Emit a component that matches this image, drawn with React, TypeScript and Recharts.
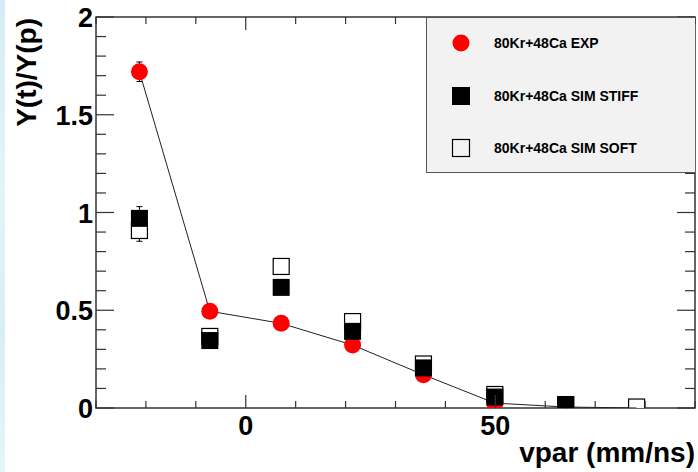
import { ComposedChart, Scatter, XAxis, YAxis, ErrorBar, ReferenceArea, Legend } from 'recharts'

const FONT = '"Liberation Sans", Arial, Helvetica, sans-serif'

// bin centres (mm/ns)
const BIN_X = [-21.3, -7.2, 7.1, 21.4, 35.6, 49.9, 64.1, 78.3]

const EXP_Y = [1.72, 0.495, 0.433, 0.322, 0.17, 0.025, 0.005, 0]
const EXP_ERR = [0.05, 0.02, 0.02, 0.015, 0.012, 0.006, 0.003, 0]

const STIFF_Y = [0.97, 0.345, 0.617, 0.392, 0.205, 0.056, 0.018]
const STIFF_ERR = [0.06, 0.02, 0.03, 0.02, 0.015, 0.008, 0.004]

const SOFT_Y = [0.908, 0.366, 0.724, 0.442, 0.225, 0.069, 0.015, 0.005]
const SOFT_ERR = [0.055, 0.02, 0.03, 0.02, 0.015, 0.008, 0.004, 0.002]

const X_TICKS = [-30, -20, -10, 0, 10, 20, 30, 40, 50, 60, 70, 80, 90]
const X_LABELS = [0, 50]
const Y_TICKS = [0, 0.1, 0.2, 0.3, 0.4, 0.5, 0.6, 0.7, 0.8, 0.9, 1, 1.1, 1.2, 1.3, 1.4, 1.5, 1.6, 1.7, 1.8, 1.9, 2]
const Y_LABELS = [0, 0.5, 1, 1.5, 2]

const SERIES_NAMES = ['80Kr+48Ca EXP', '80Kr+48Ca SIM STIFF', '80Kr+48Ca SIM SOFT']

const W = 698
const H = 472
const PLOT_LEFT = 96
const PLOT_RIGHT = 695
const PLOT_TOP = 17
const PLOT_BOTTOM = 408
const AXIS = '#333'

const toPoints = (ys: number[], errs: number[]) =>
  ys.map((y, i) => ({ x: BIN_X[i], y, err: errs[i] }))

const expData = toPoints(EXP_Y, EXP_ERR)
const stiffData = toPoints(STIFF_Y, STIFF_ERR)
const softData = toPoints(SOFT_Y, SOFT_ERR)

const MS = 17 // marker size

function RedDot({ cx, cy, payload }: any) {
  // empty bins get no marker, only the line passes through
  if (!payload || payload.y === 0) return null
  return <circle cx={cx} cy={cy} r={MS / 2} fill="#ff0000" />
}

function FullSquare({ cx, cy }: any) {
  return <rect x={cx - MS / 2} y={cy - MS / 2} width={MS} height={MS} fill="#000" />
}

function OpenSquare({ cx, cy }: any) {
  return <rect x={cx - MS / 2 + 0.5} y={cy - MS / 2 + 0.5} width={MS - 1} height={MS - 1} fill="#fff" stroke="#000" strokeWidth={1.2} />
}

function XTick({ x, payload }: any) {
  const v = payload.value
  const major = X_LABELS.includes(v)
  const len = major ? 13 : 7
  return (
    <g>
      <line x1={x} x2={x} y1={PLOT_BOTTOM} y2={PLOT_BOTTOM - len} stroke={AXIS} strokeWidth={1.2} />
      <line x1={x} x2={x} y1={PLOT_TOP} y2={PLOT_TOP + len} stroke={AXIS} strokeWidth={1.2} />
      {major && (
        <text x={x} y={435} textAnchor="middle" fontSize={27} fontWeight="bold" fontFamily={FONT} fill="#000">
          {v}
        </text>
      )}
    </g>
  )
}

function YTick({ y, payload }: any) {
  const v = payload.value
  const major = Y_LABELS.some(m => Math.abs(m - v) < 1e-6)
  const len = major ? 18 : 10
  return (
    <g>
      <line x1={PLOT_LEFT} x2={PLOT_LEFT + len} y1={y} y2={y} stroke={AXIS} strokeWidth={1.2} />
      <line x1={PLOT_RIGHT} x2={PLOT_RIGHT - len} y1={y} y2={y} stroke={AXIS} strokeWidth={1.2} />
      {major && (
        <text x={93} y={y + 10} textAnchor="end" fontSize={27} fontWeight="bold" fontFamily={FONT} fill="#000">
          {v}
        </text>
      )}
    </g>
  )
}

function LegendBox() {
  const markers = [
    <circle cx={12} cy={12} r={8.5} fill="#ff0000" />,
    <rect x={3} y={3} width={18} height={18} fill="#000" />,
    <rect x={3.5} y={3.5} width={17} height={17} fill="none" stroke="#000" strokeWidth={1.2} />,
  ]
  return (
    <div
      style={{
        width: 269,
        height: 156,
        boxSizing: 'border-box',
        background: '#f2f2f2',
        border: '1.5px solid #555',
        borderRight: 'none',
        position: 'relative',
        fontFamily: FONT,
      }}
    >
      {SERIES_NAMES.map((name, i) => (
        <div
          key={name}
          style={{ position: 'absolute', left: 22, top: 13 + i * 52.5, height: 24, display: 'flex', alignItems: 'center' }}
        >
          <svg width={24} height={24}>{markers[i]}</svg>
          <span style={{ marginLeft: 21, fontSize: 14, fontWeight: 'bold', color: '#000' }}>{name}</span>
        </div>
      ))}
    </div>
  )
}

export default function App() {
  return (
    <div style={{ position: 'relative', width: W, height: H, background: '#fff', overflow: 'hidden' }}>
      <style>{'body{margin:0}'}</style>
      <div
        style={{
          position: 'absolute',
          left: 0,
          top: 0,
          width: 5,
          height: H,
          background: 'linear-gradient(180deg, #d5ecf4, #e4f4f9 40%, #d8eef5 70%, #e6f5fa)',
        }}
      />
      <ComposedChart
        width={W}
        height={H}
        margin={{ top: PLOT_TOP, right: W - PLOT_RIGHT, bottom: 34, left: PLOT_LEFT - 60 }}
      >
        <XAxis
          type="number"
          dataKey="x"
          domain={[-30, 90]}
          ticks={X_TICKS}
          interval={0}
          allowDataOverflow
          axisLine={false}
          tickLine={false}
          tickSize={0}
          tickMargin={0}
          height={30}
          tick={<XTick />}
        />
        <YAxis
          type="number"
          dataKey="y"
          domain={[0, 2]}
          ticks={Y_TICKS}
          interval={0}
          allowDataOverflow
          axisLine={false}
          tickLine={false}
          tickSize={0}
          tickMargin={0}
          width={60}
          tick={<YTick />}
        />
        <ReferenceArea x1={-30} x2={90} y1={0} y2={2} fill="none" stroke={AXIS} strokeWidth={1.5} />
        <Legend
          layout="horizontal"
          verticalAlign="middle"
          align="center"
          wrapperStyle={{ left: 426, top: PLOT_TOP, width: 269, height: 156 }}
          content={() => <LegendBox />}
        />
        <Scatter name={SERIES_NAMES[2]} data={softData} shape={<OpenSquare />} isAnimationActive={false}>
          <ErrorBar dataKey="err" direction="y" width={3} stroke="#000" strokeWidth={1} />
        </Scatter>
        <Scatter
          name={SERIES_NAMES[0]}
          data={expData}
          shape={<RedDot />}
          line={{ stroke: '#222', strokeWidth: 1 }}
          lineType="joint"
          isAnimationActive={false}
        >
          <ErrorBar dataKey="err" direction="y" width={3} stroke="#000" strokeWidth={1} />
        </Scatter>
        <Scatter name={SERIES_NAMES[1]} data={stiffData} shape={<FullSquare />} isAnimationActive={false}>
          <ErrorBar dataKey="err" direction="y" width={3} stroke="#000" strokeWidth={1} />
        </Scatter>
      </ComposedChart>
      <svg width={W} height={H} style={{ position: 'absolute', left: 0, top: 0, pointerEvents: 'none' }}>
        <text
          transform="translate(36,18) rotate(-90)"
          textAnchor="end"
          fontSize={28}
          fontWeight="bold"
          fontFamily={FONT}
          fill="#000"
        >
          Y(t)/Y(p)
        </text>
        <text x={695} y={462} textAnchor="end" fontSize={28} fontWeight="bold" fontFamily={FONT} fill="#000">
          vpar (mm/ns)
        </text>
      </svg>
    </div>
  )
}
